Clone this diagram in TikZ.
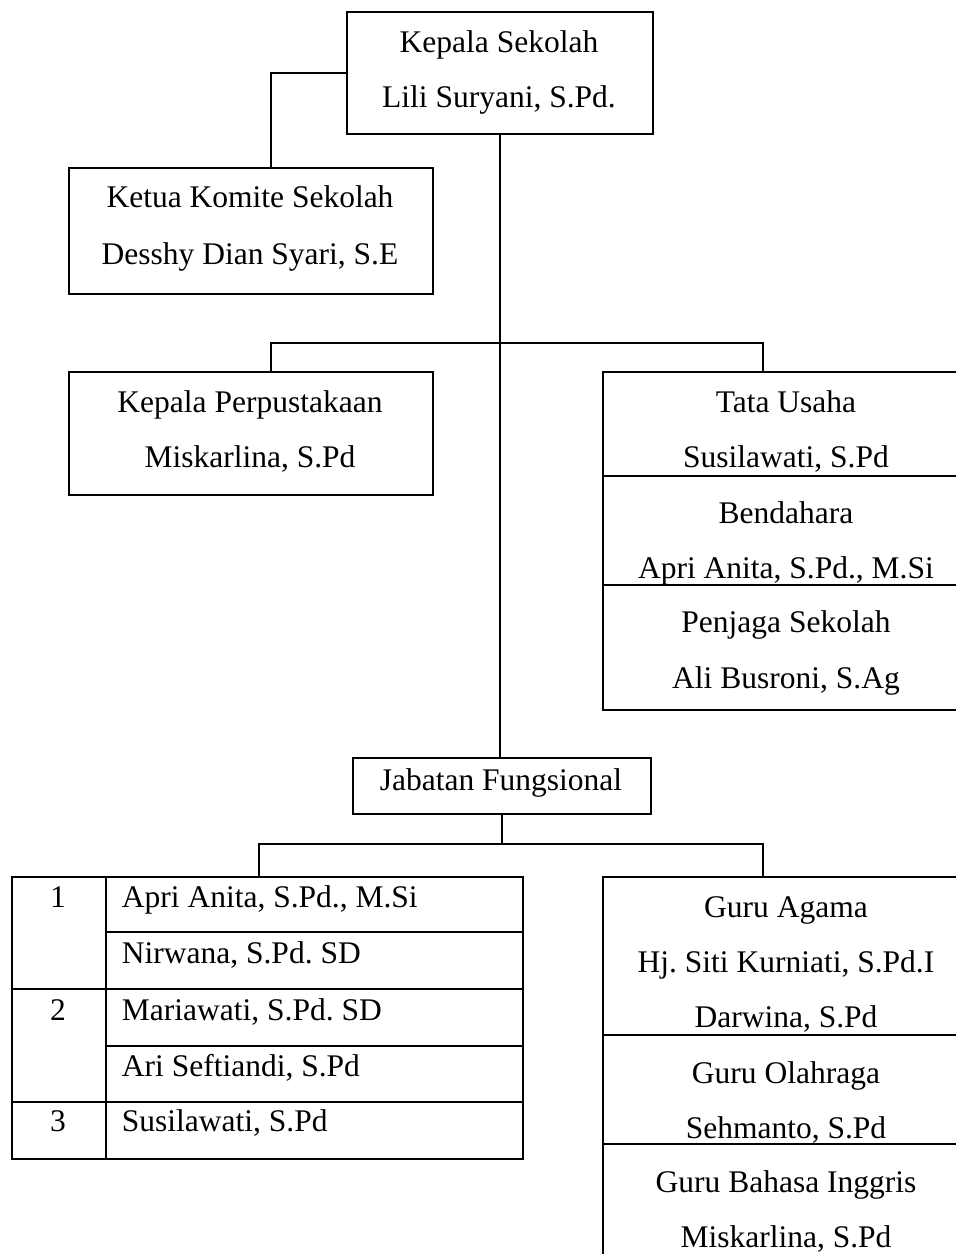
\documentclass[tikz,border=0pt]{standalone}
\usepackage{fontspec}
\setmainfont{Liberation Serif}
\frenchspacing
\begin{document}
\begin{tikzpicture}[x=1pt,y=-1pt,line width=1.8pt,
  box/.style={draw,rectangle,inner sep=0pt,anchor=north west},
  txt/.style={anchor=base,inner sep=0pt,font=\fontsize{31.5}{38}\selectfont},
  ltxt/.style={txt,anchor=base west}]
\useasboundingbox (0,0) rectangle (956,1254);
\clip (0,0) rectangle (956,1254);
% boxes
\node[box,minimum width=306pt,minimum height=122pt] (ks) at (346,11) {};
\node[box,minimum width=364pt,minimum height=126pt] (kom) at (68,167) {};
\node[box,minimum width=364pt,minimum height=123pt] (perp) at (68,371) {};
\node[box,minimum width=370pt,minimum height=338pt] (tu) at (602,371) {};
\node[box,minimum width=298pt,minimum height=56pt] (jf) at (352,757) {};
\node[box,minimum width=511pt,minimum height=282pt] (tab) at (11,876) {};
\node[box,minimum width=370pt,minimum height=420pt] (guru) at (602,876) {};
% connectors
\coordinate (br1) at (500,343);
\coordinate (br2) at (500,844);
\draw (ks.west) -| ([xshift=20pt]kom.north);
\draw (ks.south) -- (ks.south |- jf.north);
\draw ([xshift=20pt]perp.north) |- (br1) -| ([xshift=-25pt]tu.north);
\draw (jf.south) -- (jf.south |- br2);
\draw ([xshift=-8.5pt]tab.north) |- (br2) -| ([xshift=-25pt]guru.north);
% dividers in right boxes
\draw (tu.west |- 0,476) -- (tu.east |- 0,476);
\draw (tu.west |- 0,585) -- (tu.east |- 0,585);
\draw (guru.west |- 0,1035) -- (guru.east |- 0,1035);
\draw (guru.west |- 0,1144) -- (guru.east |- 0,1144);
% table grid
\draw (106,876) -- (106,1158);
\draw (106,932) -- (tab.east |- 0,932);
\draw (tab.west |- 0,989) -- (tab.east |- 0,989);
\draw (106,1046) -- (tab.east |- 0,1046);
\draw (tab.west |- 0,1102) -- (tab.east |- 0,1102);
% texts
\node[txt] (t1) at (499,52) {Kepala Sekolah};
\node[txt] (t2) at (499,107) {Lili Suryani, S.Pd.};
\node[txt] (t3) at (250,207) {Ketua Komite Sekolah};
\node[txt] (t4) at (250,264) {Desshy Dian Syari, S.E};
\node[txt] (t5) at (250,412) {Kepala Perpustakaan};
\node[txt] (t6) at (250,467) {Miskarlina, S.Pd};
\node[txt] (t7) at (786,412) {Tata Usaha};
\node[txt] (t8) at (786,467) {Susilawati, S.Pd};
\node[txt] (t9) at (786,523) {Bendahara};
\node[txt] (t10) at (786,578) {Apri Anita, S.Pd., M.Si};
\node[txt] (t11) at (786,632) {Penjaga Sekolah};
\node[txt] (t12) at (786,688) {Ali Busroni, S.Ag};
\node[txt] (t13) at (501,790) {Jabatan Fungsional};
\node[txt] (n1) at (58,907) {1};
\node[txt] (n2) at (58,1020) {2};
\node[txt] (n3) at (58,1131) {3};
\node[ltxt] (r1) at (121,907) {Apri Anita, S.Pd., M.Si};
\node[ltxt] (r2) at (121,963) {Nirwana, S.Pd. SD};
\node[ltxt] (r3) at (121,1020) {Mariawati, S.Pd. SD};
\node[ltxt] (r4) at (121,1076) {Ari Seftiandi, S.Pd};
\node[ltxt] (r5) at (121,1131) {Susilawati, S.Pd};
\node[txt] (g1) at (786,917) {Guru Agama};
\node[txt] (g2) at (786,972) {Hj. Siti Kurniati, S.Pd.I};
\node[txt] (g3) at (786,1027) {Darwina, S.Pd};
\node[txt] (g4) at (786,1083) {Guru Olahraga};
\node[txt] (g5) at (786,1138) {Sehmanto, S.Pd};
\node[txt] (g6) at (786,1192) {Guru Bahasa Inggris};
\node[txt] (g7) at (786,1247) {Miskarlina, S.Pd};
\end{tikzpicture}
\end{document}
